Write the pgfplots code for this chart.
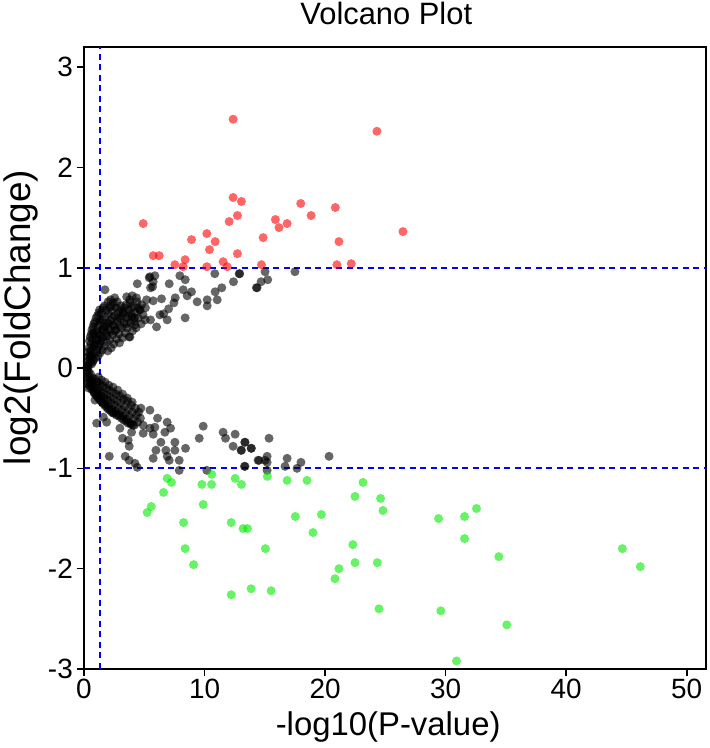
\documentclass[border=0pt]{standalone}
\usepackage{pgfplots}
\pgfplotsset{compat=1.18}
\usepackage{fontspec}
\setmainfont{Liberation Sans}

\definecolor{upred}{RGB}{255,0,0}
\definecolor{downgreen}{RGB}{0,235,0}

\begin{document}
\begin{tikzpicture}
\begin{axis}[
    name=ax,
    scale only axis,
    width=622bp, height=622bp,
    xmin=0, xmax=51.6,
    ymin=-3, ymax=3.2,
    xtick={0,10,20,30,40,50},
    ytick={-3,-2,-1,0,1,2,3},
    yticklabels={-3,-2,-1,0,1,2,3},
    tick pos=left,
    tick align=outside,
    major tick length=7bp,
    every tick/.style={black, line width=1.6bp},
    axis line style={line width=1.6bp},
    /pgf/number format/assume math mode=true,
    ticklabel style={font=\fontsize{28}{30}\selectfont, inner sep=0pt},
    xticklabel style={anchor=base, yshift=-22bp},
    yticklabel style={anchor=east, xshift=-4bp},
    xlabel={-log10(P-value)},
    ylabel={log2(FoldChange)},
    xlabel style={font=\fontsize{33}{35}\selectfont, at={(0.489,0)}, anchor=base, yshift=-66bp, inner sep=0pt},
    ylabel style={font=\fontsize{37}{39}\selectfont, at={(0,0.565)}, anchor=center, yshift=63bp, inner sep=0pt},
    title={Volcano Plot},
    title style={font=\fontsize{31}{33}\selectfont, at={(0.486,1)}, anchor=base, yshift=17bp, inner sep=0pt},
    clip=true,
]

% not significant
\addplot[only marks, mark=*, mark size=4.5bp,
  mark options={draw=none, draw opacity=0, fill=black, fill opacity=0.6}] table {
x y
0.25 0.01
0.35 0.01
0.31 0.03
0.27 0.07
0.36 0.11
0.33 0.16
0.44 0.05
0.41 0.20
0.47 0.13
0.53 0.09
0.58 0.24
0.56 0.17
0.63 0.04
0.67 0.13
0.71 0.28
0.74 0.20
0.79 0.08
0.86 0.33
0.88 0.15
0.93 0.24
0.97 0.10
1.03 0.37
1.06 0.19
1.11 0.29
1.16 0.12
1.19 0.42
1.24 0.22
1.27 0.33
1.33 0.15
1.36 0.45
1.41 0.27
1.47 0.38
1.52 0.18
1.55 0.48
1.61 0.31
1.66 0.41
1.69 0.22
1.76 0.51
1.82 0.35
1.86 0.26
1.93 0.45
1.97 0.17
2.04 0.54
2.09 0.38
2.13 0.28
2.21 0.47
2.26 0.20
2.29 0.57
2.37 0.33
2.42 0.43
2.47 0.24
2.53 0.52
2.58 0.37
2.66 0.60
2.71 0.29
2.76 0.46
2.83 0.55
2.89 0.34
2.94 0.25
3.02 0.49
3.07 0.62
3.13 0.40
3.19 0.30
3.27 0.56
3.33 0.45
3.41 0.35
3.47 0.63
3.52 0.50
3.61 0.40
3.67 0.58
3.74 0.31
3.79 0.68
3.86 0.45
3.93 0.54
4.02 0.37
4.08 0.62
4.16 0.47
4.24 0.55
4.33 0.40
4.41 0.66
4.50 0.50
4.62 0.58
4.74 0.44
4.90 0.53
5.10 0.60
0.45 0.27
0.52 0.31
0.60 0.34
0.66 0.38
0.75 0.41
0.82 0.44
0.90 0.46
1.00 0.50
1.12 0.52
1.22 0.55
1.30 0.58
1.45 0.55
1.58 0.60
1.70 0.62
1.85 0.58
2.00 0.66
2.20 0.68
2.35 0.62
2.55 0.70
2.75 0.66
0.60 0.12
0.72 0.06
0.85 0.22
1.00 0.28
1.14 0.35
1.30 0.24
1.48 0.30
1.60 0.38
1.78 0.42
1.90 0.32
2.05 0.44
2.20 0.36
2.35 0.50
2.50 0.42
2.65 0.38
2.80 0.50
3.00 0.42
3.15 0.52
3.35 0.60
3.55 0.44
3.70 0.52
3.95 0.60
4.20 0.50
4.50 0.60
4.35 0.70
4.00 0.72
1.74 0.78
4.42 0.84
5.47 0.91
5.88 0.92
5.52 0.80
5.69 0.81
7.07 0.84
7.95 0.92
8.40 0.88
8.23 0.78
8.92 0.76
8.56 0.72
7.57 0.70
7.46 0.65
7.02 0.59
6.60 0.54
6.90 0.48
6.02 0.41
8.39 0.50
9.39 0.66
10.22 0.68
10.22 0.62
11.05 0.68
10.88 0.76
11.43 0.80
10.85 0.94
12.87 0.94
12.40 0.86
14.30 0.80
5.74 0.67
6.43 0.69
5.19 0.68
4.64 0.58
5.08 0.48
5.52 0.48
6.30 0.53
4.78 0.63
3.54 0.71
3.81 0.65
2.98 0.58
2.15 0.61
1.33 0.48
0.77 0.35
2.43 0.65
3.26 0.55
3.95 0.51
4.23 0.43
3.81 0.31
5.41 0.90
5.74 0.86
12.92 0.94
15.02 0.96
15.24 0.88
14.69 0.86
14.36 0.80
17.50 0.96
0.27 -0.02
0.31 -0.06
0.29 -0.10
0.35 -0.14
0.39 -0.04
0.43 -0.09
0.46 -0.18
0.51 -0.12
0.55 -0.06
0.59 -0.16
0.64 -0.21
0.69 -0.10
0.73 -0.14
0.78 -0.19
0.83 -0.24
0.89 -0.11
0.94 -0.17
0.99 -0.22
1.04 -0.27
1.09 -0.14
1.16 -0.20
1.21 -0.25
1.26 -0.30
1.34 -0.16
1.39 -0.23
1.44 -0.28
1.51 -0.33
1.57 -0.18
1.63 -0.25
1.70 -0.30
1.76 -0.36
1.83 -0.20
1.89 -0.27
1.96 -0.32
2.03 -0.38
2.11 -0.22
2.17 -0.29
2.24 -0.35
2.32 -0.41
2.39 -0.24
2.46 -0.31
2.53 -0.37
2.61 -0.43
2.68 -0.26
2.75 -0.33
2.83 -0.40
2.91 -0.46
2.98 -0.28
3.06 -0.35
3.13 -0.42
3.21 -0.48
3.29 -0.31
3.36 -0.38
3.44 -0.45
3.52 -0.51
3.60 -0.33
3.68 -0.41
3.76 -0.48
3.84 -0.55
3.93 -0.37
4.01 -0.44
4.10 -0.51
4.18 -0.57
4.27 -0.40
4.36 -0.47
4.45 -0.54
4.55 -0.44
4.68 -0.50
3.90 -0.56
4.05 -0.57
0.30 -0.16
0.38 -0.20
0.62 -0.13
0.75 -0.22
0.85 -0.25
0.98 -0.27
1.12 -0.29
1.25 -0.31
1.40 -0.33
1.55 -0.35
1.70 -0.37
1.86 -0.39
2.00 -0.41
2.15 -0.42
2.30 -0.44
2.50 -0.45
2.70 -0.47
2.90 -0.48
3.10 -0.50
3.30 -0.52
3.50 -0.53
3.65 -0.55
1.20 -0.09
1.45 -0.12
1.75 -0.14
2.05 -0.17
2.40 -0.19
2.80 -0.22
3.20 -0.26
3.60 -0.30
4.00 -0.34
0.91 -0.32
1.05 -0.55
1.60 -0.49
1.88 -0.54
2.43 -0.45
2.10 -0.88
2.98 -0.60
3.20 -0.70
3.67 -0.72
3.75 -0.78
3.42 -0.88
3.75 -0.92
4.23 -0.95
4.42 -0.99
3.95 -0.64
4.91 -0.65
5.74 -0.66
4.91 -0.57
5.47 -0.60
5.88 -0.59
4.72 -0.40
5.47 -0.42
6.10 -0.50
6.90 -0.54
7.18 -0.60
6.71 -0.64
6.38 -0.74
7.54 -0.74
5.97 -0.82
6.79 -0.82
7.54 -0.82
5.74 -0.90
6.90 -0.88
7.07 -0.92
7.90 -0.92
8.42 -0.80
7.90 -1.02
9.56 -0.70
9.89 -0.58
10.19 -1.02
11.54 -0.64
11.74 -0.70
12.54 -0.66
12.37 -0.78
13.06 -0.82
13.34 -0.74
13.89 -0.80
13.31 -0.98
14.44 -0.92
13.36 -0.74
13.03 -0.82
13.86 -0.80
15.35 -0.70
14.52 -0.92
15.02 -0.92
15.19 -0.88
15.19 -0.94
13.36 -0.98
15.19 -1.02
16.68 -0.98
16.85 -0.90
17.67 -1.00
18.00 -0.94
20.33 -0.88
};

% up-regulated
\addplot[only marks, mark=*, mark size=4.5bp,
  mark options={draw=none, draw opacity=0, fill=upred, fill opacity=0.6}] table {
x y
12.37 2.48
24.30 2.36
4.91 1.44
12.37 1.70
13.06 1.66
12.73 1.52
12.04 1.46
17.98 1.64
18.84 1.52
15.88 1.48
16.18 1.40
16.85 1.44
20.85 1.60
26.46 1.36
21.15 1.26
14.86 1.30
10.19 1.34
10.88 1.26
10.41 1.18
8.92 1.28
5.74 1.12
6.24 1.12
8.39 1.08
7.54 1.03
8.23 1.01
11.54 1.06
12.73 1.14
11.88 1.01
10.19 1.01
14.72 1.03
20.98 1.03
22.17 1.04
};

% down-regulated
\addplot[only marks, mark=*, mark size=4.5bp,
  mark options={draw=none, draw opacity=0, fill=downgreen, fill opacity=0.6}] table {
x y
6.90 -1.10
7.26 -1.14
6.60 -1.24
5.58 -1.38
5.24 -1.44
9.78 -1.16
10.58 -1.16
10.60 -1.06
9.89 -1.36
8.26 -1.54
8.39 -1.80
9.09 -1.96
12.54 -1.10
13.06 -1.16
15.21 -1.08
16.85 -1.12
18.50 -1.12
12.21 -1.54
13.20 -1.60
13.56 -1.60
15.05 -1.80
12.21 -2.26
13.86 -2.20
15.52 -2.22
17.53 -1.48
19.69 -1.46
18.99 -1.64
23.14 -1.14
22.48 -1.28
24.60 -1.30
24.80 -1.42
22.30 -1.76
22.48 -1.94
21.15 -2.00
20.82 -2.10
24.33 -1.94
24.47 -2.40
29.41 -1.50
31.57 -1.48
32.56 -1.40
31.57 -1.70
34.41 -1.88
29.60 -2.42
35.07 -2.56
30.90 -2.92
44.66 -1.80
46.15 -1.98
};

% thresholds
\addplot[blue, line width=1.8bp, dash pattern=on 6bp off 4.5bp] coordinates {(1.3,-3) (1.3,3.2)};
\addplot[blue, line width=1.8bp, dash pattern=on 6bp off 4.5bp] coordinates {(0,1) (51.6,1)};
\addplot[blue, line width=1.8bp, dash pattern=on 6bp off 4.5bp] coordinates {(0,-1) (51.6,-1)};

\end{axis}
\pgfresetboundingbox
\path[use as bounding box] ([xshift=-84bp,yshift=-79bp]ax.south west) rectangle ([xshift=3bp,yshift=47bp]ax.north east);
\end{tikzpicture}
\end{document}
